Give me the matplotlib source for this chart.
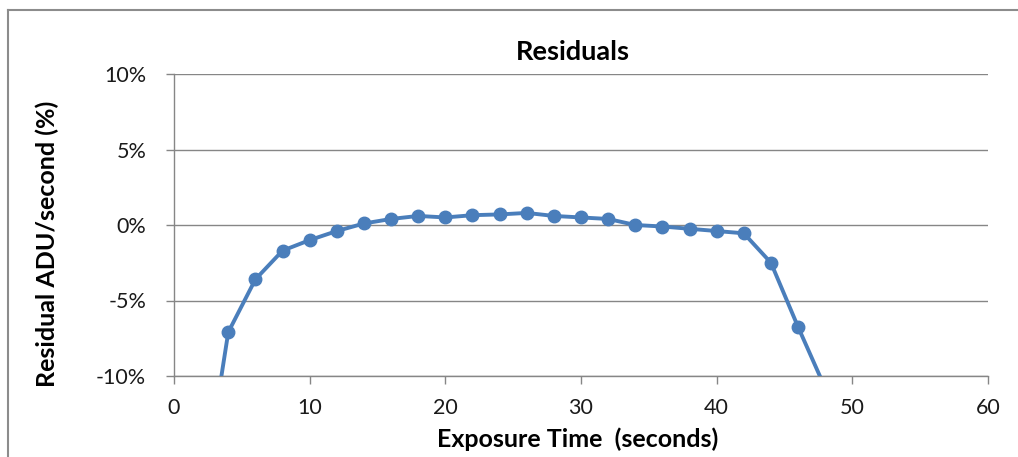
import matplotlib
matplotlib.use("Agg")
import matplotlib.pyplot as plt
from matplotlib.lines import Line2D
from matplotlib.ticker import FuncFormatter

exposure_time = [2, 4, 6, 8, 10, 12, 14, 16, 18, 20, 22, 24, 26, 28, 30,
                 32, 34, 36, 38, 40, 42, 44, 46, 48]
residual_pct = [-18.6, -7.1, -3.6, -1.7, -1.0, -0.4, 0.1, 0.4, 0.6, 0.5, 0.65,
                0.7, 0.8, 0.6, 0.5, 0.4, 0.0, -0.1, -0.25, -0.4, -0.55, -2.5,
                -6.75, -10.8]
x_ticks = [0, 10, 20, 30, 40, 50, 60]
y_ticks = [-10, -5, 0, 5, 10]

plt.rcParams['font.family'] = ['Lato', 'DejaVu Sans']

W, H = 1018, 457
fig = plt.figure(figsize=(W / 100, H / 100), dpi=100)
ax = fig.add_axes([174 / W, 1 - 376 / H, (988 - 174) / W, (376 - 74) / H])

grid_c = '#868686'
line_c = '#4A7EBB'

ax.plot(exposure_time, residual_pct, color=line_c, lw=2.8, marker='o',
        markersize=9, markerfacecolor=line_c, markeredgecolor=line_c,
        solid_joinstyle='round', zorder=3)

ax.set_xlim(0, 60)
ax.set_ylim(-10, 10)
ax.set_xticks(x_ticks)
ax.set_yticks(y_ticks)
ax.yaxis.set_major_formatter(FuncFormatter(lambda v, p: f"{v:.0f}%"))
ax.grid(axis='y', color=grid_c, lw=1)
ax.set_axisbelow(True)
for s in ['top', 'right']:
    ax.spines[s].set_visible(False)
for s in ['left', 'bottom']:
    ax.spines[s].set_color(grid_c)
    ax.spines[s].set_linewidth(1)
ax.tick_params(axis='both', direction='out', length=6, width=1, color=grid_c,
               labelsize=15.5, labelcolor='#1a1a1a')
ax.tick_params(axis='y', pad=14)
ax.tick_params(axis='x', pad=10)

fig.text(573 / W, 1 - 52 / H, 'Residuals', ha='center', va='center',
         fontsize=19.5, fontweight='bold')
fig.text(578 / W, 1 - 439 / H, 'Exposure Time  (seconds)', ha='center',
         va='center', fontsize=18, fontweight='bold')
fig.text(47 / W, 1 - 244 / H, 'Residual ADU/second (%)', ha='center',
         va='center', rotation=90, fontsize=18, fontweight='bold')

# outer chart border (top and left visible)
border_c = '#8c8c8c'
fig.add_artist(Line2D([8 / W, 1], [1 - 10 / H, 1 - 10 / H], color=border_c,
                      lw=1.5, transform=fig.transFigure))
fig.add_artist(Line2D([8 / W, 8 / W], [0, 1 - 10 / H], color=border_c,
                      lw=1.5, transform=fig.transFigure))

fig.savefig('out.png', dpi=100)
